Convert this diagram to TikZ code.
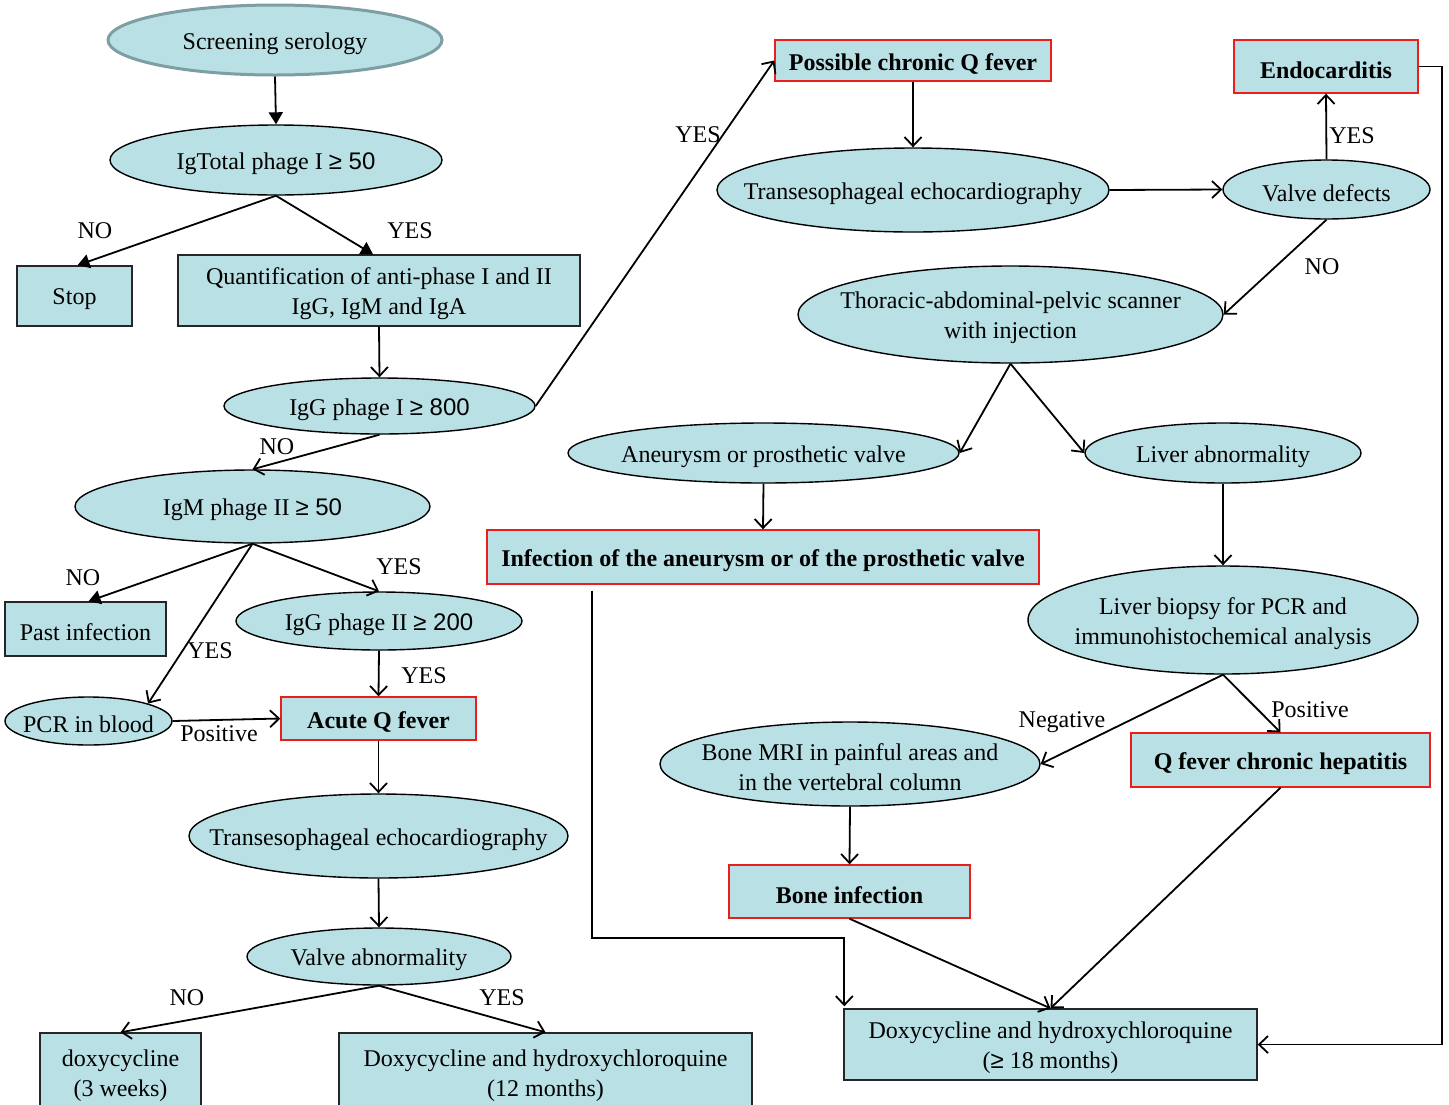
\documentclass[tikz,border=0pt]{standalone}
\usepackage{fontspec}
\setmainfont{Liberation Serif}
\newfontfamily\arialf{Liberation Sans}
\usetikzlibrary{shapes.geometric,arrows.meta,calc}
\definecolor{boxfill}{RGB}{185,224,228}
\definecolor{redline}{RGB}{235,30,30}
\definecolor{topline}{RGB}{125,158,162}
\begin{document}
\begin{tikzpicture}[x=1pt,y=-1pt,
  every node/.style={font=\fontsize{24}{30}\selectfont},
  oval/.style={ellipse, draw=black, line width=1.4pt, fill=boxfill, inner sep=0pt},
  box/.style={rectangle, draw=black!85, line width=1.4pt, fill=boxfill, inner sep=0pt},
  redbox/.style={box, draw=redline},
  txtlab/.style={inner sep=0pt, align=center, yshift=-3.5pt},
  t/.style={label={[txtlab]center:{#1}}},
  bt/.style={label={[txtlab,font=\fontsize{24}{30}\selectfont\bfseries]center:{#1}}},
  lbl/.style={inner sep=0pt},
  arr/.style={line width=1.8pt, -{Straight Barb[length=9pt,width=17pt]}},
  farr/.style={line width=1.8pt, -{Triangle[length=12pt,width=14pt]}},
]
\fill[white] (0,0) rectangle (1449,1104);
\clip (0,0) rectangle (1449,1104);

% left column
\node[oval, draw=topline, line width=3pt, minimum width=334pt, minimum height=70pt, t={Screening serology}] (screen) at (275,40) {};
\node[oval, minimum width=332pt, minimum height=70pt, t={IgTotal phage I {\arialf ≥ 50}}] (igtotal) at (276,160) {};
\node[box, minimum width=115pt, minimum height=60pt, t={Stop}] (stop) at (74.5,296) {};
\node[box, minimum width=402pt, minimum height=71pt, t={Quantification of anti-phase I and II\\IgG, IgM and IgA}] (quant) at (379,290.5) {};
\node[oval, minimum width=311pt, minimum height=56pt, t={IgG phage I {\arialf ≥ 800}}] (iggI) at (379.5,406) {};
\node[oval, minimum width=355pt, minimum height=73pt, t={IgM phage II {\arialf ≥ 50}}] (igmII) at (252.5,506.5) {};
\node[box, minimum width=161pt, minimum height=54pt, t={Past infection}] (past) at (85.5,629) {};
\node[oval, minimum width=286pt, minimum height=58pt, t={IgG phage II {\arialf ≥ 200}}] (iggII) at (379,621) {};
\node[oval, minimum width=167pt, minimum height=48pt, t={PCR in blood}] (pcr) at (88.5,721) {};
\node[redbox, minimum width=195pt, minimum height=43pt, bt={Acute Q fever}] (acute) at (378.5,718.5) {};
\node[oval, minimum width=379pt, minimum height=84pt, t={Transesophageal echocardiography}] (tee1) at (378.5,836) {};
\node[oval, minimum width=264pt, minimum height=57pt, t={Valve abnormality}] (valveab) at (379,956.5) {};
\node[box, minimum width=161pt, minimum height=79pt, t={doxycycline\\(3 weeks)}] (doxy3) at (120.5,1072.5) {};
\node[box, minimum width=413pt, minimum height=79pt, t={Doxycycline and hydroxychloroquine\\(12 months)}] (doxy12) at (545.5,1072.5) {};

% right part
\node[redbox, minimum width=276pt, minimum height=41pt, bt={Possible chronic Q fever}] (possible) at (913,60.5) {};
\node[oval, minimum width=392pt, minimum height=84pt, t={Transesophageal echocardiography}] (tee2) at (913,190) {};
\node[oval, minimum width=207pt, minimum height=59pt, t={Valve defects}] (valvedef) at (1326.5,189.5) {};
\node[redbox, minimum width=184pt, minimum height=53pt, bt={Endocarditis}] (endo) at (1326,66.5) {};
\node[oval, minimum width=425pt, minimum height=97pt, t={Thoracic-abdominal-pelvic scanner\\with injection}] (thoracic) at (1010.5,314.5) {};
\node[oval, minimum width=391pt, minimum height=60pt, t={Aneurysm or prosthetic valve}] (aneur) at (763.5,453) {};
\node[oval, minimum width=276pt, minimum height=60pt, t={Liver abnormality}] (liver) at (1223,453) {};
\node[redbox, minimum width=552pt, minimum height=54pt, bt={Infection of the aneurysm or of the prosthetic valve}] (infect) at (763,557) {};
\node[oval, minimum width=390pt, minimum height=108pt, t={Liver biopsy for PCR and\\immunohistochemical analysis}] (biopsy) at (1223,620) {};
\node[oval, minimum width=380pt, minimum height=84pt, t={Bone MRI in painful areas and\\in the vertebral column}] (bonemri) at (850,764) {};
\node[redbox, minimum width=299pt, minimum height=54pt, bt={Q fever chronic hepatitis}] (hepat) at (1280.5,760) {};
\node[redbox, minimum width=241pt, minimum height=53pt, bt={Bone infection}] (boneinf) at (849.5,891.5) {};
\node[box, minimum width=413pt, minimum height=71pt, t={Doxycycline and hydroxychloroquine\\({\arialf ≥} 18 months)}] (doxy18) at (1050.5,1044.5) {};

% connectors left
\draw[farr] (screen.south) -- (igtotal.north);
\draw[farr] (igtotal.south) -- ([xshift=3pt]stop.north);
\draw[farr] (igtotal.south) -- ([xshift=-6pt]quant.north);
\draw[arr] (quant.south) -- (iggI.north);
\draw[arr] (iggI.east) -- (possible.west);
\draw[arr] (iggI.south) -- (igmII.north);
\draw[farr] (igmII.south) -- ([xshift=3pt]past.north);
\draw[arr] (igmII.south) -- (iggII.north);
\draw[arr] (igmII.south) -- (pcr.north east);
\draw[arr] (iggII.south) -- (acute.north);
\draw[arr] (pcr.east) -- (acute.west);
\draw[arr] (acute.south) -- (tee1.north);
\draw[arr] (tee1.south) -- (valveab.north);
\draw[arr] (valveab.south) -- (doxy3.north);
\draw[arr] (valveab.south) -- (doxy12.north);

% connectors right
\draw[arr] (possible.south) -- (tee2.north);
\draw[arr] (tee2.east) -- (valvedef.west);
\draw[arr] (valvedef.north) -- (endo.south);
\draw[arr] (valvedef.south) -- (thoracic.east);
\draw[arr] (thoracic.south) -- (aneur.east);
\draw[arr] (thoracic.south) -- (liver.west);
\draw[arr] (aneur.south) -- (infect.north);
\draw[arr] (liver.south) -- (biopsy.north);
\draw[arr] (biopsy.south) -- (bonemri.east);
\draw[arr] (biopsy.south) -- (hepat.north);
\draw[arr] (bonemri.south) -- (boneinf.north);
\draw[arr] (boneinf.south) -- (doxy18.north);
\draw[arr] (hepat.south) -- (doxy18.north);
\coordinate (bend) at (592,938);
\draw[arr] ($(infect.south)+(-171,6)$) -- (bend) -| ($(doxy18.north west)+(1,-2)$);
\draw[arr] (endo.east) -- ++(23,0) |- (doxy18.east);

% labels
\node[lbl] (l1) at (95,231) {NO};
\node[lbl] (l2) at (410,231) {YES};
\node[lbl] (l3) at (698,135) {YES};
\node[lbl] (l4) at (277,447) {NO};
\node[lbl] (l5) at (83,578) {NO};
\node[lbl] (l6) at (399,567) {YES};
\node[lbl] (l7) at (210,651) {YES};
\node[lbl] (l8) at (424,676) {YES};
\node[lbl] (l9) at (219,734) {Positive};
\node[lbl] (l10) at (187,998) {NO};
\node[lbl] (l11) at (502,998) {YES};
\node[lbl] (l12) at (1352,136) {YES};
\node[lbl] (l13) at (1322,267) {NO};
\node[lbl] (l14) at (1062,722) {Negative};
\node[lbl] (l15) at (1310,710) {Positive};
\end{tikzpicture}
\end{document}
